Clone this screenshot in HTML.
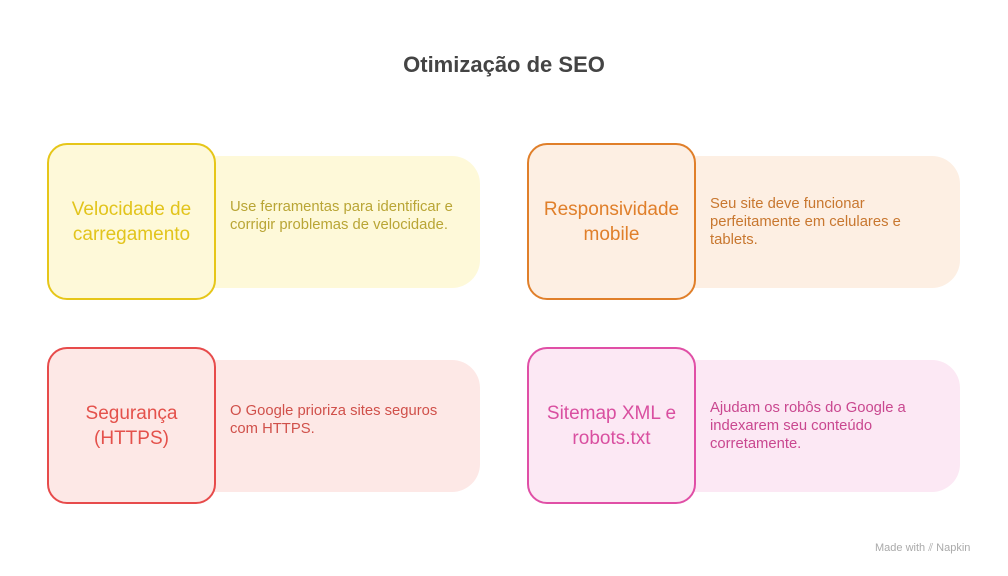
<!DOCTYPE html>
<html><head><meta charset="utf-8"><style>
body{margin:0;width:1008px;height:576px;background:#fff;font-family:"Liberation Sans",sans-serif;position:relative;overflow:hidden}
.t{position:absolute;left:0;width:1008px;top:52px;text-align:center;font-size:22px;font-weight:bold;color:#444}
.p{position:absolute;width:290px;height:132px;border-radius:28px}
.b{position:absolute;width:165px;height:153px;border:2px solid;border-radius:20px;display:flex;align-items:center;justify-content:center;text-align:center;font-size:19px;line-height:25px}
.d{position:absolute;font-size:14.8px;line-height:18px;width:240px}
.m{position:absolute;left:875px;top:542px;font-size:11px;color:#aaa}
</style></head><body>
<div class="t">Otimização de SEO</div>

<div class="p" style="left:190px;top:156px;background:#fef9d9"></div>
<div class="b" style="left:47px;top:143px;background:#fef9d9;border-color:#e6c619;color:#e2c41c">Velocidade de<br>carregamento</div>
<div class="d" style="left:230px;top:198px;color:#b9a535">Use ferramentas para identificar e corrigir problemas de velocidade.</div>

<div class="p" style="left:670px;top:156px;background:#fdefe3"></div>
<div class="b" style="left:527px;top:143px;background:#fdefe3;border-color:#e07f2a;color:#e07f2a">Responsividade<br>mobile</div>
<div class="d" style="left:710px;top:195px;color:#c8772f;width:210px">Seu site deve funcionar perfeitamente em celulares e tablets.</div>

<div class="p" style="left:190px;top:360px;background:#fde8e6"></div>
<div class="b" style="left:47px;top:347px;background:#fde8e6;border-color:#e74b4b;color:#e4514b">Segurança<br>(HTTPS)</div>
<div class="d" style="left:230px;top:402px;color:#d0504a;width:230px">O Google prioriza sites seguros com HTTPS.</div>

<div class="p" style="left:670px;top:360px;background:#fce8f4"></div>
<div class="b" style="left:527px;top:347px;background:#fce8f4;border-color:#e04fa6;color:#d94fa0">Sitemap XML e<br>robots.txt</div>
<div class="d" style="left:710px;top:399px;color:#c9478f;width:220px">Ajudam os robôs do Google a indexarem seu conteúdo corretamente.</div>

<div class="m">Made with ⫽ Napkin</div>
</body></html>
